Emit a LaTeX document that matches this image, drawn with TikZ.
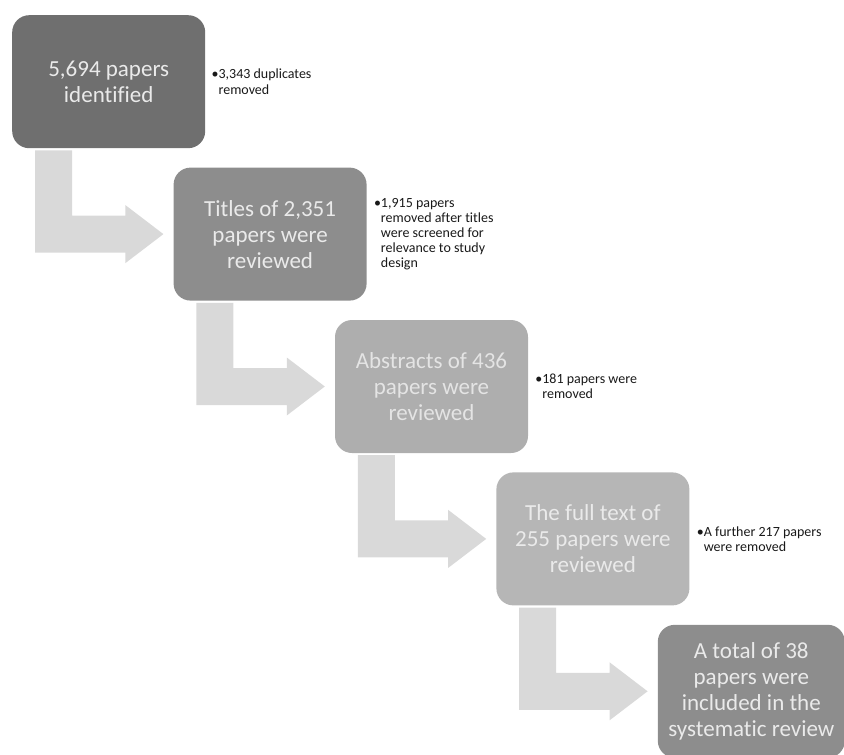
\documentclass[tikz,border=0pt]{standalone}
\usepackage{fontspec}
\setmainfont[Ligatures=NoCommon]{Carlito}
\usetikzlibrary{positioning, calc}

\definecolor{shadeA}{HTML}{6F6F6F}
\definecolor{shadeB}{HTML}{8D8D8D}
\definecolor{shadeC}{HTML}{AEAEAE}
\definecolor{shadeD}{HTML}{B6B6B6}
\definecolor{flowgray}{HTML}{D9D9D9}
\definecolor{boxtext}{HTML}{EAEAEA}

% bent arrow from one box into the next one
\newcommand{\flowarrow}[2]{%
  \fill[flow] ($(#1.south west)+(23pt,-2pt)$) coordinate (#1-tail) -- ++(37pt,0)
    |- ($(#2.west)+(-48pt,18.5pt)$) -- ++(0,10.5pt) -- ($(#2.west)+(-10pt,0)$)
    -- ++(-38pt,-29pt) -- ++(0,10.5pt) -| (#1-tail) -- cycle;}

\begin{document}
\begin{tikzpicture}[
  x=1pt, y=1pt,
  box/.style={rounded corners=17pt, align=center, inner sep=0pt, text=boxtext,
    minimum width=193pt, minimum height=133pt,
    font=\fontsize{23}{26}\selectfont},
  note/.style={align=left, inner sep=0pt, text=black!90,
    font=\fontsize{14}{15.2}\selectfont},
  flow/.style={fill=flowgray}
]
\useasboundingbox (0,0) rectangle (844,-755);

\node[box, fill=shadeA, anchor=north west] (ident) at (12,-15) {5,694 papers\\identified};
\node[box, fill=shadeB, below right=19pt and -32pt of ident] (titles) {Titles of 2,351\\papers were\\reviewed};
\node[box, fill=shadeC, text=boxtext!90!shadeC, below right=19pt and -32pt of titles] (abstracts) {Abstracts of 436\\papers were\\reviewed};
\node[box, fill=shadeD, below right=19pt and -32pt of abstracts] (fulltext) {The full text of\\255 papers were\\reviewed};
\node[box, fill=shadeB, minimum width=187pt, below right=19pt and -32pt of fulltext] (included) {A total of 38\\papers were\\included in the\\systematic review};

\node[note, right=6pt of ident] (identnote) {\textbullet 3,343 duplicates\\\hphantom{\textbullet}removed};
\node[note, right=7pt of titles] (titlesnote) {\textbullet 1,915 papers\\\hphantom{\textbullet}removed after titles\\\hphantom{\textbullet}were screened for\\\hphantom{\textbullet}relevance to study\\\hphantom{\textbullet}design};
\node[note, right=7pt of abstracts] (abstractsnote) {\textbullet 181 papers were\\\hphantom{\textbullet}removed};
\node[note, right=7pt of fulltext] (fulltextnote) {\textbullet A further 217 papers\\\hphantom{\textbullet}were removed};

\flowarrow{ident}{titles}
\flowarrow{titles}{abstracts}
\flowarrow{abstracts}{fulltext}
\flowarrow{fulltext}{included}
\end{tikzpicture}
\end{document}
